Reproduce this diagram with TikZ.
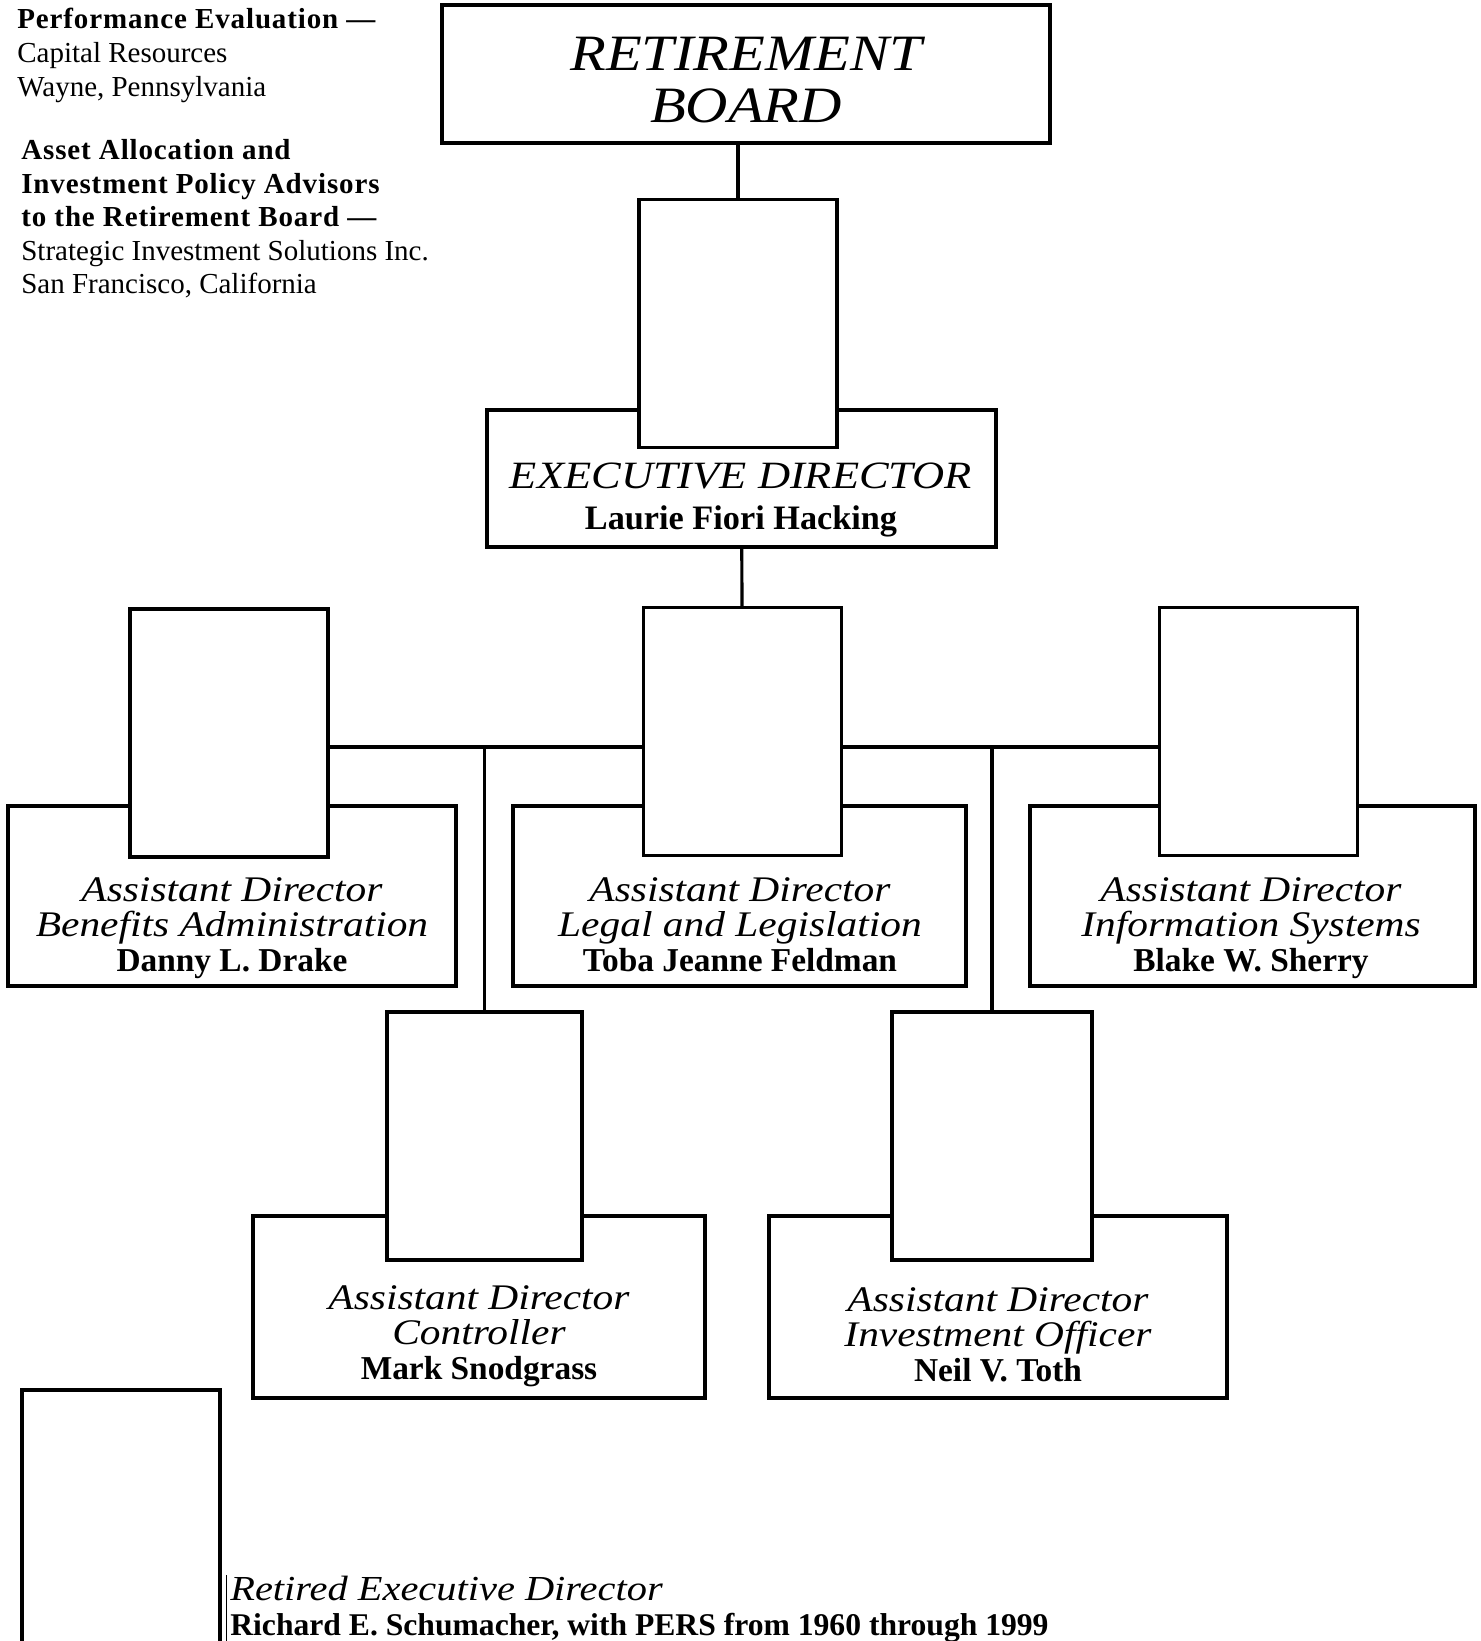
\documentclass[tikz,border=0pt]{standalone}
\usepackage{fontspec}
\setmainfont{Liberation Serif}
\newfontfamily\handfont[FakeStretch=1.15]{Liberation Serif}
\usepackage{tikz}
\newcommand{\hand}{\handfont\itshape}
\newcommand{\advbold}{\bfseries\addfontfeature{LetterSpace=3}}
\newcommand{\whofont}{\normalfont\bfseries\fontsize{19}{20}\selectfont}

\begin{document}
\begin{tikzpicture}[x=0.02cm, y=-0.02cm,
    box/.style={rectangle, draw, line width=2pt, inner sep=0pt},
    photo/.style={rectangle, draw, fill=white, line width=2pt, minimum width=3.96cm, minimum height=4.96cm, inner sep=0pt},
    title/.style={align=center, inner sep=0pt, font=\hand\fontsize{20.5}{20}\selectfont},
    link/.style={line width=1.8pt}
]
\useasboundingbox (0,0) rectangle (1481,1641);

% advisors
\node[anchor=north west, align=left, inner sep=0pt, font=\fontsize{16.5}{19.3}\selectfont] (evaluator) at (17,8)
    {{\advbold Performance Evaluation \textemdash}\\Capital Resources\\Wayne, Pennsylvania};
\node[anchor=north west, align=left, inner sep=0pt, font=\fontsize{16.5}{19.1}\selectfont] (advisors) at (21,139)
    {{\advbold Asset Allocation and}\\{\advbold Investment Policy Advisors}\\{\advbold to the Retirement Board \textemdash}\\Strategic Investment Solutions Inc.\\San Francisco, California};

% board and director
\node[box, minimum width=12.16cm, minimum height=2.76cm] (board) at (746,74) {};
\node[title, font=\hand\fontsize{29}{30}\selectfont] (boardtext) at (746,80) {RETIREMENT\\BOARD};
\node[box, minimum width=10.18cm, minimum height=2.74cm] (execdir) at (741.5,478.5) {};
\node[photo] (photoexec) at (738,323.5) {};
\node[title, font=\hand\fontsize{22}{23.2}\selectfont] (exectext) at (741,500)
    {EXECUTIVE DIRECTOR\\{\normalfont\bfseries\fontsize{19.5}{20}\selectfont Laurie Fiori Hacking}};

% assistant directors
\node[box, minimum width=8.96cm, minimum height=3.6cm] (benefits) at (232,896) {};
\node[box, minimum width=9.06cm, minimum height=3.6cm] (legal) at (739.5,896) {};
\node[box, minimum width=8.9cm, minimum height=3.6cm] (info) at (1252.5,896) {};
\node[photo] (photobenefits) at (229,733) {};
\node[photo] (photolegal) at (742.5,731.5) {};
\node[photo] (photoinfo) at (1258.5,731.5) {};
\node[title] (benefitstext) at (232,928) {Assistant Director\\Benefits Administration\\{\whofont Danny L. Drake}};
\node[title] (legaltext) at (740,925) {Assistant Director\\Legal and Legislation\\{\whofont Toba Jeanne Feldman}};
\node[title] (infotext) at (1251,928) {Assistant Director\\Information Systems\\{\whofont Blake W. Sherry}};

\node[box, minimum width=9.04cm, minimum height=3.64cm] (control) at (479,1307) {};
\node[box, minimum width=9.16cm, minimum height=3.64cm] (invest) at (998,1307) {};
\node[photo, minimum width=3.9cm] (photocontrol) at (484.5,1136) {};
\node[photo, minimum width=4cm] (photoinvest) at (992,1136) {};
\node[title] (controltext) at (479,1336) {Assistant Director\\Controller\\{\whofont Mark Snodgrass}};
\node[title] (investtext) at (998,1335) {Assistant Director\\Investment Officer\\{\whofont Neil V. Toth}};

% retired director
\node[photo, minimum height=5.2cm] (photoretired) at (121,1520) {};
\node[anchor=west, align=left, inner sep=0pt, font=\hand\fontsize{20}{20}\selectfont] (retiredtext) at (230,1609)
    {Retired Executive Director\\{\normalfont\bfseries\fontsize{18}{20}\selectfont Richard E. Schumacher, with PERS from 1960 through 1999}};
\draw[line width=0.6pt] ([xshift=-2pt]retiredtext.north west) -- ([xshift=-2pt]retiredtext.west |- 0,1641);

% connectors
\coordinate (hbus) at (740,747);
\draw[link] (photoexec.north) -- (photoexec.north |- board.south);
\draw[link] (execdir) -- (photolegal);
\draw[link] (photobenefits.east |- hbus) -- (photolegal.west |- hbus);
\draw[link] (photolegal.east |- hbus) -- (photoinfo.west |- hbus);
\draw[link] (photocontrol.north) -- (photocontrol.north |- hbus);
\draw[link] (photoinvest.north) -- (photoinvest.north |- hbus);

\end{tikzpicture}
\end{document}
